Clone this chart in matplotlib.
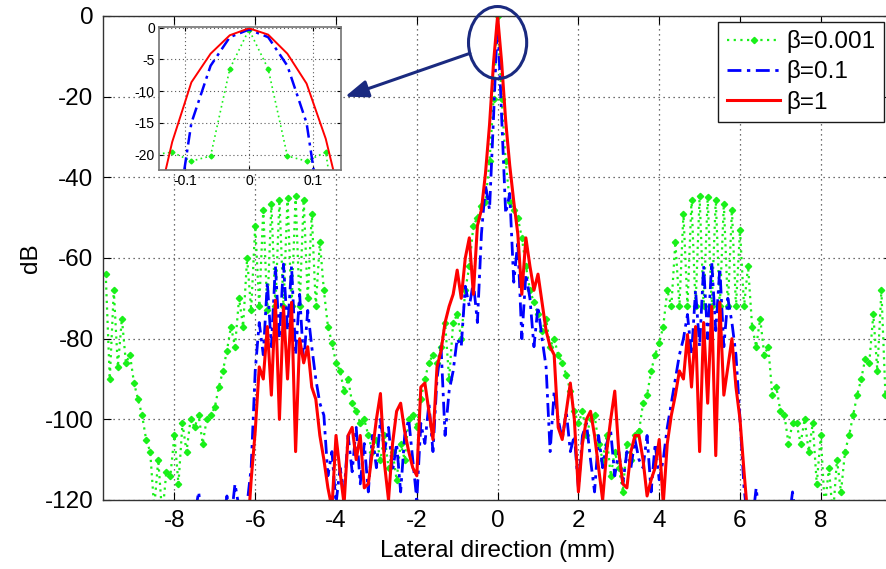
import numpy as np
import matplotlib
matplotlib.use('Agg')
import matplotlib.pyplot as plt
from matplotlib.patches import Ellipse
from matplotlib import rcParams

rcParams['font.family'] = ['Liberation Sans', 'DejaVu Sans']
rcParams['font.size'] = 17.5
rcParams['axes.unicode_minus'] = False

# lateral sample positions (mm), 0.1 mm apart: -9.7 ... 9.6
lateral_mm = np.round(np.arange(-97, 97) / 10.0, 1)

# beta = 0.001 (dB), one row per mm
db_b0001 = [
    -64, -90, -68, -87, -75, -86, -84, -91,                          # -9.7..-9.0
    -95, -99, -105, -108, -122, -110, -124, -113, -114, -104,        # -8.9..-8.0
    -116, -101, -108, -100, -102, -99, -106, -100, -99, -97,         # -7.9..-7.0
    -92, -88, -83, -77, -82, -70, -77, -60, -73, -52,                # -6.9..-6.0
    -72, -48, -73, -46.5, -72, -45.5, -72, -45, -72, -44.6,          # -5.9..-5.0
    -72, -45.5, -70, -49, -72, -56, -68, -77, -81, -86,              # -4.9..-4.0
    -88, -93, -90, -96, -98, -101, -100, -104, -108, -105,           # -3.9..-3.0
    -110, -104, -112, -108, -115, -106, -110, -100, -99, -102,       # -2.9..-2.0
    -95, -90, -86, -84, -86, -82, -76, -90, -76, -74,                # -1.9..-1.0
    -80, -68, -62, -52, -50, -47, -46, -36, -20.5, 0,                # -0.9..0.0
    -20.5, -36, -46, -48, -50, -55, -62, -68, -71, -74,              # 0.1..1.0
    -78, -75, -82, -80, -84, -86, -89, -93, -98, -101,               # 1.1..2.0
    -98, -104, -100, -99, -106, -110, -104, -114, -108, -112,        # 2.1..3.0
    -118, -106, -110, -104, -103, -96, -94, -88, -84, -81,           # 3.1..4.0
    -77, -68, -72, -56, -72, -49, -72, -45.5, -72, -44.7,            # 4.1..5.0
    -72, -44.8, -72, -45.5, -72, -46.5, -72, -48, -72, -53,          # 5.1..6.0
    -72, -62, -77, -82, -75, -84, -82, -94, -92, -98,                # 6.1..7.0
    -99, -106, -101, -101, -106, -100, -108, -101, -116, -104,       # 7.1..8.0
    -122, -112, -124, -110, -118, -108, -104, -99, -94, -90,         # 8.1..9.0
    -85, -86, -74, -88, -68, -94,                                    # 9.1..9.6
]

# beta = 0.1 (dB)
db_b01 = [
    -130, -130, -130, -130, -130, -130, -130, -130,
    -130, -130, -130, -130, -130, -130, -130, -130, -130, -130,
    -130, -130, -130, -126, -124, -118, -126, -130, -130, -130,
    -130, -126, -119, -125, -116, -122, -126, -121, -112, -88,
    -76, -84, -66, -82, -62, -80, -61.5, -78, -62, -84,
    -69, -86, -73, -82, -90, -96, -99, -114, -108, -121,
    -112, -118, -104, -113, -102, -116, -106, -118, -104, -112,
    -100, -108, -102, -113, -106, -118, -104, -100, -110, -120,
    -101, -106, -96, -108, -90, -82, -104, -93, -88, -80,
    -82, -67, -72, -66, -76, -54, -42, -48, -25, -0.3,
    -25, -49, -44, -66, -56, -80, -64, -70, -82, -72,
    -80, -87, -108, -93, -100, -105, -98, -108, -104, -117,
    -104, -101, -110, -118, -104, -112, -106, -103, -114, -108,
    -116, -108, -112, -105, -110, -112, -104, -118, -106, -115,
    -110, -102, -96, -90, -84, -80, -74, -84, -68, -82,
    -62, -80, -61, -78, -62.5, -82, -70, -76, -84, -100,
    -117, -126, -126, -117, -126, -130, -120, -130, -130, -130,
    -130, -126, -118, -126, -130, -130, -130, -130, -130, -130,
    -130, -130, -130, -130, -130, -130, -130, -130, -130, -130,
    -130, -130, -130, -130, -130, -130,
]

# beta = 1 (dB)
db_b1 = [
    -130, -130, -130, -130, -130, -130, -130, -130,
    -130, -130, -130, -130, -130, -130, -130, -130, -130, -130,
    -130, -130, -130, -130, -130, -130, -130, -130, -130, -130,
    -130, -130, -130, -130, -130, -130, -130, -130, -115, -103,
    -87, -90, -77, -94, -70.5, -100, -72, -90, -71, -108,
    -80, -86, -82, -92, -95, -104, -110, -117, -122, -104,
    -113, -121, -104, -102, -110, -104, -117, -116, -108, -100,
    -93.6, -111, -120, -106, -98, -96, -103, -108, -112, -114,
    -92, -91, -98, -105, -87, -83, -76, -72, -69, -63,
    -70, -60, -55, -69, -52, -48, -39, -27, -11.5, 0,
    -11.5, -26, -37, -46, -54, -69, -55, -62, -68, -64,
    -71, -78, -82, -84, -102, -105, -98, -91, -100, -118,
    -106, -100, -98, -104, -112, -120, -108, -100, -93, -108,
    -116, -117, -108, -104, -104, -110, -119, -115, -112, -105,
    -121, -106, -99, -94, -88, -90, -79, -92, -77, -108,
    -76, -96, -72, -109, -71, -94, -87, -80, -92, -100,
    -113, -125, -130, -130, -130, -130, -130, -130, -130, -130,
    -130, -130, -130, -130, -130, -130, -130, -130, -130, -130,
    -130, -130, -130, -130, -130, -130, -130, -130, -130, -130,
    -130, -130, -130, -130, -130, -130,
]

# zoomed main lobe (inset)
inset_mm = [-0.15, -0.12, -0.09, -0.06, -0.03, 0, 0.03, 0.06, 0.09, 0.12, 0.15]
inset_b0001 = [-20, -19.6, -21, -20.2, -6.5, -0.3, -6.5, -20.2, -21, -19.6, -40]
inset_b01 = [-50, -35, -15, -6, -1.5, -0.3, -1.5, -6, -15, -35, -50]
inset_b1 = [-31, -18, -8.6, -4.1, -1.2, -0.1, -1.1, -4.1, -8.8, -17.5, -30]
inset_xticklabels = ['-0.1', '0', '0.1']

labels = [u'\u03b2=0.001', u'\u03b2=0.1', u'\u03b2=1']
green, blue, red = '#19f019', '#0000ff', '#ff0000'
navy = '#1a2a80'

W, H = 886, 569
fig = plt.figure(figsize=(W/100, H/100), dpi=100)
ax = fig.add_axes([103.3/W, 69/H, 788.6/W, 484/H])

ax.plot(lateral_mm, db_b0001, color=green, ls=(0, (1, 2)), lw=1.6,
        marker='D', ms=3.2, mec=green, mfc=green, label=labels[0])
ax.plot(lateral_mm, db_b01, color=blue, ls=(0, (5, 2, 1.2, 2)), lw=2.0,
        label=labels[1])
ax.plot(lateral_mm, db_b1, color=red, ls='-', lw=2.2, label=labels[2])

ax.set_xlim(-9.76, 9.76)
ax.set_ylim(-120, 0)
ax.set_xticks(range(-8, 9, 2))
ax.set_yticks(range(-120, 1, 20))
ax.set_xlabel('Lateral direction (mm)', labelpad=6)
ax.set_ylabel('dB', labelpad=2)
ax.tick_params(direction='in', length=6, top=True, right=True, pad=7)
ax.grid(True, ls=(0, (1, 3)), color='0.25', lw=0.9)
for s in ax.spines.values():
    s.set_color('0.2')
    s.set_linewidth(1.0)

leg = ax.legend(loc='upper right', bbox_to_anchor=(884/W, 1 - 21.7/H),
                bbox_transform=fig.transFigure, borderaxespad=0,
                fancybox=False, framealpha=1, edgecolor='0.1',
                handlelength=2.2, handletextpad=0.25, labelspacing=0.3,
                borderpad=0.35)
leg.get_frame().set_linewidth(1.0)

# circle round the peak and arrow to the inset
ax.add_patch(Ellipse((0, -6.6), 1.44, 17.9, fill=False, ec=navy, lw=2.2,
                     clip_on=False, zorder=5))
ax.annotate('', xy=(345, H - 96.7), xycoords='figure pixels',
            xytext=(470, H - 53.3), textcoords='figure pixels',
            arrowprops=dict(arrowstyle='-|>,head_length=0.8,head_width=0.3',
                            color=navy, lw=2.2, shrinkA=0, shrinkB=0))

# inset
axi = fig.add_axes([159/W, 1 - 170/H, 182/W, 143/H])
axi.plot(inset_mm, inset_b0001, color=green, ls=(0, (1, 2)), lw=1.2,
         marker='D', ms=2.5)
axi.plot(inset_mm, inset_b01, color=blue, ls=(0, (5, 2, 1.2, 2)), lw=1.8)
axi.plot(inset_mm, inset_b1, color=red, lw=1.4)
axi.set_xlim(-0.1406, 0.1438)
axi.set_ylim(-22.4, 0.1)
axi.set_xticks([-0.1, 0, 0.1])
axi.set_xticklabels(inset_xticklabels)
axi.set_yticks([0, -5, -10, -15, -20])
axi.tick_params(direction='in', length=3, labelsize=10, pad=3,
                top=True, right=True)
axi.grid(True, ls=(0, (1, 2.5)), color='0.35', lw=0.8)
for s in axi.spines.values():
    s.set_color('0.45')
    s.set_linewidth(1.2)

fig.savefig('out.png', dpi=100)
